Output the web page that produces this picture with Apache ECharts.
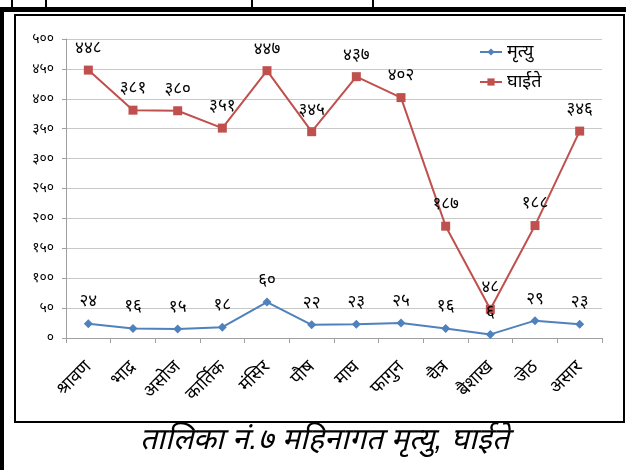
<!DOCTYPE html>
<html>
<head>
<meta charset="utf-8">
<script src="https://cdn.jsdelivr.net/npm/echarts@6/dist/echarts.min.js"></script>
<style>
html,body{margin:0;padding:0;background:#fff;}
#c{width:626px;height:470px;}
</style>
</head>
<body>
<div id="c"></div>
<script>
var months = ['श्रावण','भाद्र','असोज','कार्तिक','मंसिर','पौष','माघ','फागुन','चैत्र','बैशाख','जेठ','असार'];
var deaths = [24, 16, 15, 18, 60, 22, 23, 25, 16, 6, 29, 23];
var injured = [448, 381, 380, 351, 447, 345, 437, 402, 187, 48, 188, 346];
var seriesNames = ['मृत्यु', 'घाईते'];
var caption = 'तालिका नं.७ महिनागत मृत्यु, घाईते';

var dev = '०१२३४५६७८९';
function toDev(n){ return String(n).replace(/[0-9]/g, function(d){ return dev[+d]; }); }

var FONT = '"Noto Sans", "DejaVu Sans", sans-serif';
var chart = echarts.init(document.getElementById('c'));
chart.setOption({
  animation: false,
  textStyle: { fontFamily: FONT },
  grid: { left: 66, right: 24, top: 39, bottom: 132, containLabel: false },
  legend: {
    orient: 'vertical', left: 474, top: 38, itemWidth: 22, itemHeight: 9, itemGap: 12,
    textStyle: { fontSize: 18, color: '#000', fontFamily: FONT },
    data: [seriesNames[0], seriesNames[1]]
  },
  xAxis: {
    type: 'category', data: months, boundaryGap: true,
    axisLine: { lineStyle: { color: '#a0a0a0' } },
    axisTick: { show: true, length: 5, lineStyle: { color: '#a0a0a0' } },
    axisLabel: { rotate: 45, fontSize: 18, color: '#000', margin: 26, interval: 0, fontFamily: FONT }
  },
  yAxis: {
    type: 'value', min: 0, max: 500, interval: 50,
    axisLine: { show: true, lineStyle: { color: '#a0a0a0' } },
    axisTick: { show: true, length: 4, lineStyle: { color: '#a0a0a0' } },
    splitLine: { lineStyle: { color: '#c8c8c8' } },
    axisLabel: { fontSize: 14, color: '#000', margin: 12, formatter: function(v){ return toDev(v); }, fontFamily: FONT }
  },
  series: [
    {
      name: seriesNames[0], type: 'line', data: deaths,
      symbol: 'diamond', symbolSize: 9,
      lineStyle: { color: '#4F81BD', width: 2 },
      itemStyle: { color: '#4F81BD' },
      label: { show: true, position: 'top', distance: 9, fontSize: 17, color: '#000', fontFamily: FONT,
        formatter: function(p){ return toDev(p.value); } }
    },
    {
      name: seriesNames[1], type: 'line', data: injured,
      symbol: 'rect', symbolSize: 9,
      lineStyle: { color: '#C0504D', width: 2 },
      itemStyle: { color: '#C0504D' },
      label: { show: true, position: 'top', distance: 9, fontSize: 17, color: '#000', fontFamily: FONT,
        formatter: function(p){ return toDev(p.value); } }
    }
  ],
  graphic: [
    { type: 'rect', shape: { x: 0, y: 7, width: 626, height: 5 }, style: { fill: '#000' } },
    { type: 'rect', shape: { x: 0, y: 7, width: 4, height: 463 }, style: { fill: '#000' } },
    { type: 'line', shape: { x1: 12, y1: 0, x2: 12, y2: 7 }, style: { stroke: '#000', lineWidth: 2 } },
    { type: 'line', shape: { x1: 46, y1: 0, x2: 46, y2: 7 }, style: { stroke: '#000', lineWidth: 2 } },
    { type: 'line', shape: { x1: 252, y1: 0, x2: 252, y2: 7 }, style: { stroke: '#000', lineWidth: 2 } },
    { type: 'line', shape: { x1: 373, y1: 0, x2: 373, y2: 7 }, style: { stroke: '#000', lineWidth: 2 } },
    { type: 'rect', shape: { x: 15, y: 15, width: 609, height: 407 }, style: { fill: 'none', stroke: '#000', lineWidth: 2 } },
    { type: 'text', left: 140, top: 426, style: { text: caption, fontSize: 30, fontStyle: 'italic', fill: '#000', font: 'italic 30px ' + FONT } }
  ]
});
</script>
</body>
</html>
